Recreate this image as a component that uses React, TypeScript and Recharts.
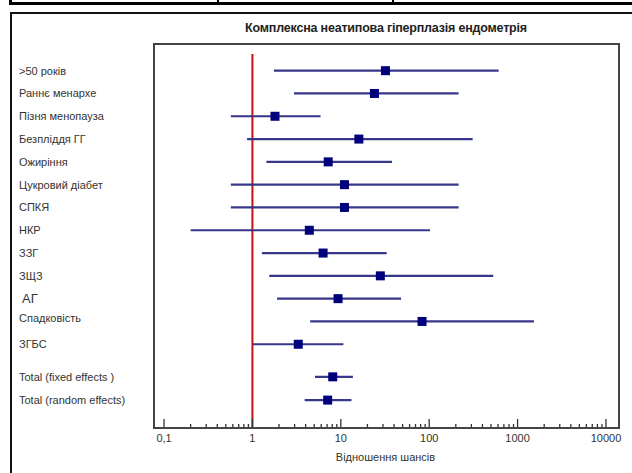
import { ScatterChart, Scatter, XAxis, YAxis, ReferenceLine } from 'recharts';

const labels = [
  '>50 років',
  'Раннє менархе',
  'Пізня менопауза',
  'Безпліддя ГГ',
  'Ожиріння',
  'Цукровий діабет',
  'СПКЯ',
  'НКР',
  'ЗЗГ',
  'ЗЩЗ',
  'АГ',
  'Спадковість',
  'ЗГБС',
  'Total (fixed effects )',
  'Total (random effects)',
];
const oddsRatio = [32, 24, 1.8, 16, 7.2, 11, 11, 4.4, 6.3, 28, 9.3, 83, 3.3, 8.1, 7.1];
const ciLow = [1.75, 2.95, 0.57, 0.87, 1.44, 0.57, 0.57, 0.2, 1.28, 1.55, 1.9, 4.5, 1.01, 5.1, 3.9];
const ciHigh = [610, 215, 5.9, 310, 38, 215, 215, 102, 33, 530, 48, 1530, 10.7, 13.7, 13.2];
// row slots, totals sit a bit lower than the study rows
const rowPos = [0, 1, 2, 3, 4, 5, 6, 7, 8, 9, 10, 11, 12, 13.43, 14.45];

const majorTicks = [0.1, 1, 10, 100, 1000, 10000];
const minorTicks = [0.2, 0.3, 0.4, 0.5, 0.6, 0.7, 0.8, 0.9, 2, 3, 4, 5, 6, 7, 8, 9, 20, 30, 40, 50, 60, 70, 80, 90,
  200, 300, 400, 500, 600, 700, 800, 900, 2000, 3000, 4000, 5000, 6000, 7000, 8000, 9000];

const data = labels.map((name, i) => ({
  name,
  pos: rowPos[i],
  or: oddsRatio[i],
  lo: ciLow[i],
  hi: ciHigh[i],
}));

const FONT = '"Liberation Sans", Arial, sans-serif';
const LINE = '#36368a';
const MARK = '#00007c';

const RowLabel = (props: any) => {
  const { y, payload } = props;
  const name = labels[rowPos.indexOf(payload.value)];
  if (name === 'АГ') {
    return (
      <text x={22} y={y} dy={4} fontSize={13} fill="#333" fontFamily={FONT}>
        {name}
      </text>
    );
  }
  const dy = name === 'Спадковість' ? 1 : 4;
  return (
    <text x={19} y={y} dy={dy} fontSize={11} fill="#333" fontFamily={FONT}>
      {name}
    </text>
  );
};

const OrTick = (props: any) => {
  const { x, y, payload } = props;
  const v = payload.value;
  const major = majorTicks.includes(v);
  return (
    <g>
      <line x1={x} x2={x} y1={y} y2={y - (major ? 8 : 3)} stroke="#333" strokeWidth={1.3} />
      {major && (
        <text x={x} y={y + 15} textAnchor="middle" fontSize={11} fill="#333" fontFamily={FONT}>
          {String(v).replace('.', ',')}
        </text>
      )}
    </g>
  );
};

const Square = (props: any) => {
  const { cx, cy } = props;
  return <rect x={cx - 4.5} y={cy - 4.5} width={9} height={9} fill={MARK} />;
};

export default function App() {
  return (
    <div style={{ position: 'absolute', left: 0, top: 0, width: 632, height: 473, background: '#fff', overflow: 'hidden' }}>
      {/* table strip on top */}
      <div style={{ position: 'absolute', left: 10, top: 2, width: 640, height: 3, background: '#000' }} />
      <div style={{ position: 'absolute', left: 9, top: 0, width: 3, height: 5, background: '#000' }} />
      <div style={{ position: 'absolute', left: 217, top: 0, width: 2, height: 5, background: '#000' }} />
      <div style={{ position: 'absolute', left: 392, top: 0, width: 2, height: 5, background: '#000' }} />
      {/* outer frame */}
      <div style={{ position: 'absolute', left: 10, top: 12, width: 640, height: 459, borderLeft: '2px solid #111', borderTop: '2px solid #111', borderBottom: '1px solid #ddd' }} />
      {/* plot frame */}
      <div style={{ position: 'absolute', left: 153, top: 43, width: 463, height: 382, border: '2px solid #444' }} />
      <div style={{ position: 'absolute', left: 0, top: 21, width: 772, textAlign: 'center', fontFamily: FONT, fontSize: 12.5, fontWeight: 'bold', color: '#222', letterSpacing: -0.2 }}>
        Комплексна неатипова гіперплазія ендометрія
      </div>
      <ScatterChart
        width={632}
        height={473}
        margin={{ top: 44, right: 14, bottom: 6, left: 13 }}
        style={{ position: 'absolute', left: 0, top: 0 }}
      >
        <XAxis
          type="number"
          dataKey="or"
          scale="log"
          domain={[0.075, 13680]}
          allowDataOverflow
          ticks={[...majorTicks, ...minorTicks]}
          interval={0}
          tick={<OrTick />}
          tickLine={false}
          axisLine={false}
          tickSize={0}
          tickMargin={0}
          height={40}
          label={{ value: 'Відношення шансів', position: 'insideBottom', offset: 6, fontSize: 11, fill: '#333', fontFamily: FONT }}
        />
        <YAxis
          type="number"
          dataKey="pos"
          reversed
          domain={[-1.17, 15.63]}
          allowDataOverflow
          ticks={rowPos}
          interval={0}
          tick={<RowLabel />}
          tickLine={false}
          axisLine={false}
          width={140}
        />
        <ReferenceLine
          segment={[{ x: 1, y: -0.73 }, { x: 1, y: 15.63 }]}
          stroke="#c41010"
          strokeWidth={2}
          ifOverflow="visible"
        />
        {data.map((d) => (
          <ReferenceLine
            key={d.name}
            segment={[{ x: d.lo, y: d.pos }, { x: d.hi, y: d.pos }]}
            stroke={LINE}
            strokeWidth={2.2}
            ifOverflow="visible"
          />
        ))}
        <Scatter data={data} shape={<Square />} isAnimationActive={false} />
      </ScatterChart>
    </div>
  );
}
